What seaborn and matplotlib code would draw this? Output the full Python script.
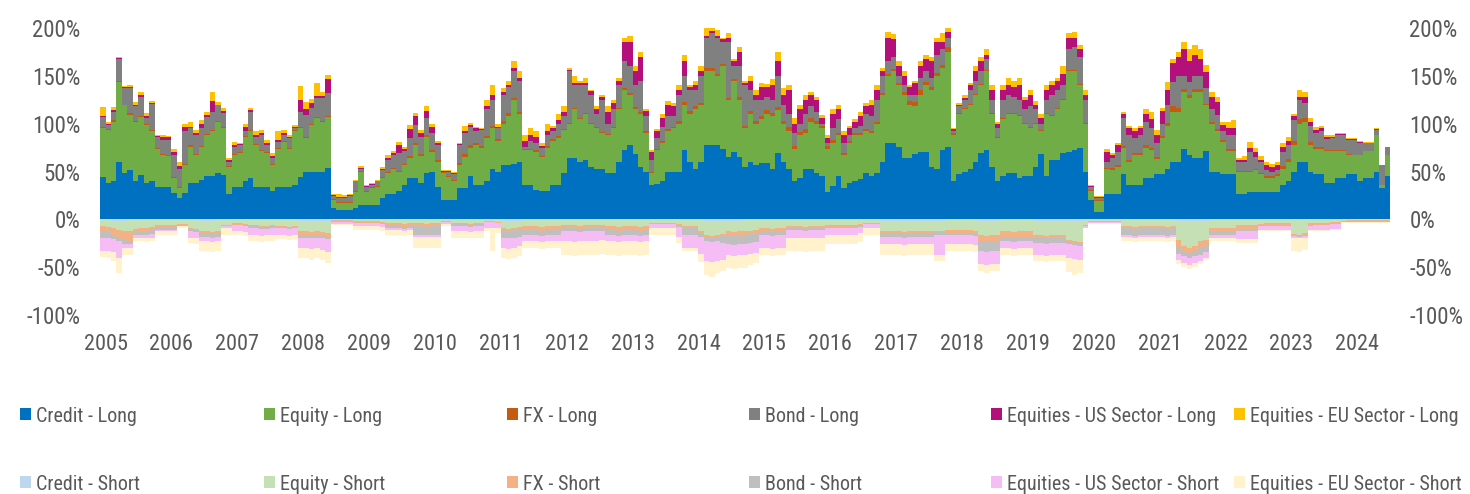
import numpy as np
import pandas as pd
import matplotlib
matplotlib.use("Agg")
import matplotlib.pyplot as plt
import matplotlib.dates as mdates
from matplotlib import font_manager
from matplotlib.patches import Patch
import seaborn as sns

# monthly samples, Dec 2004 .. Jun 2024 (values in % of capital)
months = pd.date_range("2004-12-01", periods=235, freq="MS")

# ---- long side: cumulative tops ----
credit_long = [
    44, 38, 40, 60, 48, 52, 40, 46, 38, 40, 34, 34,
    34, 28, 22, 28, 38, 38, 41, 45, 45, 48, 46, 26,
    34, 34, 40, 43, 34, 34, 34, 30, 34, 34, 34, 36,
    44, 50, 50, 50, 50, 54, 12, 10, 10, 10, 12, 15,
    15, 15, 15, 22, 26, 26, 30, 36, 43, 43, 38, 48,
    50, 34, 20, 20, 20, 33, 33, 45, 36, 36, 40, 53,
    50, 57, 57, 58, 60, 36, 36, 31, 30, 30, 36, 36,
    48, 64, 64, 60, 62, 55, 53, 53, 48, 48, 60, 72,
    78, 68, 55, 50, 36, 37, 40, 50, 50, 50, 72, 60,
    53, 60, 78, 78, 78, 74, 65, 70, 65, 55, 60, 57,
    59, 59, 53, 69, 60, 53, 40, 43, 53, 53, 48, 45,
    29, 35, 45, 33, 38, 40, 42, 48, 45, 48, 60, 80,
    80, 76, 64, 64, 68, 70, 70, 55, 53, 72, 76, 40,
    47, 50, 53, 60, 69, 72, 55, 40, 45, 48, 48, 43,
    45, 45, 55, 68, 45, 62, 62, 69, 70, 72, 75, 50,
    20, 8, 8, 27, 27, 27, 47, 36, 36, 36, 43, 43,
    47, 47, 53, 60, 60, 74, 67, 64, 64, 71, 50, 50,
    47, 47, 47, 27, 27, 29, 29, 29, 29, 29, 29, 36,
    40, 50, 60, 60, 50, 47, 47, 38, 38, 43, 43, 47,
    47, 40, 43, 43, 50, 33, 45,
]
equity_long_top = [
    95, 93, 102, 144, 119, 109, 102, 107, 99, 92, 74, 67,
    66, 43, 33, 57, 76, 67, 76, 88, 92, 102, 95, 55,
    67, 69, 86, 92, 78, 71, 69, 57, 74, 81, 74, 92,
    95, 85, 99, 106, 102, 107, 20, 17, 17, 17, 29, 50,
    29, 33, 34, 43, 48, 53, 50, 57, 64, 78, 66, 86,
    70, 60, 48, 44, 40, 57, 65, 75, 78, 75, 85, 95,
    82, 100, 108, 125, 110, 72, 72, 70, 65, 75, 82, 85,
    93, 100, 115, 105, 110, 100, 95, 90, 88, 95, 115, 135,
    130, 115, 110, 90, 48, 72, 80, 92, 95, 100, 120, 110,
    115, 120, 155, 155, 150, 160, 125, 145, 125, 95, 110, 100,
    105, 110, 108, 114, 100, 92, 74, 88, 90, 102, 100, 95,
    74, 80, 88, 67, 80, 88, 88, 92, 90, 100, 130, 150,
    155, 140, 130, 120, 118, 130, 140, 135, 150, 158, 175, 88,
    110, 115, 120, 130, 140, 155, 110, 85, 105, 110, 110, 108,
    100, 95, 100, 92, 110, 108, 115, 125, 155, 155, 140, 100,
    30, 19, 19, 53, 52, 55, 75, 60, 67, 67, 75, 72,
    63, 85, 98, 112, 112, 133, 127, 133, 133, 119, 100, 92,
    81, 71, 71, 50, 50, 50, 52, 47, 43, 43, 45, 53,
    60, 78, 100, 102, 78, 74, 74, 71, 71, 71, 71, 67,
    67, 67, 71, 71, 88, 36, 67,
]
fx_long = [
    1, 1, 2, 1, 1, 2, 1, 1, 1, 1, 1, 1,
    1, 1, 1, 1, 2, 1, 1, 1, 1, 1, 1, 1,
    1, 1, 1, 1, 1, 1, 1, 1, 1, 1, 1, 1,
    1, 1, 1, 1, 1, 1, 1, 1, 1, 1, 1, 1,
    1, 1, 1, 1, 1, 1, 1, 1, 2, 2, 2, 2,
    2, 2, 1, 1, 1, 2, 3, 3, 2, 2, 2, 3,
    2, 3, 3, 2, 2, 2, 2, 2, 1, 2, 2, 2,
    1, 1, 1, 1, 1, 1, 1, 1, 1, 1, 1, 2,
    2, 2, 2, 2, 1, 1, 2, 2, 2, 3, 3, 3,
    3, 2, 3, 3, 2, 2, 2, 2, 3, 3, 3, 3,
    3, 4, 3, 3, 3, 4, 3, 3, 4, 4, 3, 3,
    3, 3, 2, 2, 2, 2, 2, 2, 2, 2, 2, 2,
    2, 2, 3, 4, 5, 5, 4, 3, 3, 3, 5, 2,
    1, 1, 1, 1, 1, 1, 1, 1, 1, 1, 1, 1,
    1, 1, 1, 1, 1, 1, 1, 1, 1, 1, 1, 1,
    1, 1, 1, 1, 2, 2, 2, 2, 2, 2, 3, 3,
    2, 2, 3, 6, 4, 3, 3, 3, 3, 2, 2, 2,
    2, 2, 2, 1, 1, 1, 1, 1, 2, 2, 2, 3,
    3, 4, 5, 4, 3, 2, 2, 1, 1, 1, 1, 1,
    0, 0, 0, 0, 0, 0, 0,
]
bond_long_top = [
    107, 99, 112, 168, 137, 137, 118, 128, 106, 121, 86, 83,
    83, 67, 53, 92, 95, 88, 95, 107, 112, 119, 111, 60,
    76, 78, 92, 112, 86, 88, 78, 64, 81, 88, 85, 95,
    112, 109, 116, 127, 127, 132, 24, 22, 22, 24, 40, 53,
    34, 36, 40, 52, 62, 67, 69, 71, 85, 99, 86, 106,
    90, 78, 50, 50, 47, 78, 90, 97, 92, 93, 115, 125,
    95, 130, 138, 155, 145, 76, 82, 80, 75, 88, 92, 100,
    108, 155, 140, 140, 140, 130, 110, 125, 100, 115, 140, 165,
    160, 140, 145, 108, 62, 85, 96, 108, 108, 130, 150, 135,
    135, 150, 190, 195, 190, 185, 185, 160, 160, 140, 135, 125,
    125, 128, 125, 150, 120, 110, 90, 100, 110, 118, 112, 100,
    80, 95, 105, 80, 88, 95, 98, 110, 108, 125, 150, 165,
    170, 150, 140, 130, 130, 148, 155, 148, 172, 178, 190, 92,
    118, 125, 135, 145, 155, 168, 125, 95, 125, 130, 128, 125,
    115, 118, 115, 100, 125, 130, 135, 140, 178, 180, 170, 125,
    34, 22, 22, 60, 64, 70, 106, 88, 85, 88, 102, 95,
    80, 100, 120, 144, 150, 150, 144, 150, 150, 137, 115, 109,
    92, 88, 88, 60, 60, 70, 65, 60, 52, 50, 52, 70,
    78, 104, 125, 122, 98, 90, 92, 84, 85, 88, 88, 83,
    83, 80, 80, 80, 93, 57, 76,
]
us_sector_long_top = [
    108, 100, 114, 169, 138, 138, 120, 130, 108, 122, 87, 86,
    86, 70, 56, 97, 97, 90, 100, 109, 124, 120, 113, 62,
    78, 79, 97, 114, 88, 90, 80, 66, 83, 90, 86, 96,
    125, 115, 122, 129, 129, 147, 25, 23, 23, 25, 40, 54,
    35, 37, 40, 53, 64, 69, 78, 73, 94, 108, 90, 113,
    97, 80, 51, 51, 48, 79, 92, 99, 95, 94, 118, 130,
    97, 133, 140, 158, 148, 82, 88, 86, 77, 92, 95, 104,
    112, 156, 142, 143, 142, 134, 115, 128, 112, 122, 145, 185,
    185, 155, 170, 113, 70, 92, 106, 120, 118, 135, 165, 138,
    140, 155, 192, 197, 192, 188, 190, 165, 175, 142, 145, 130,
    138, 138, 140, 165, 130, 135, 100, 115, 125, 130, 125, 106,
    85, 110, 115, 88, 95, 102, 108, 118, 120, 135, 155, 190,
    188, 160, 150, 138, 142, 160, 168, 165, 185, 185, 196, 94,
    120, 127, 140, 155, 165, 172, 135, 100, 135, 140, 138, 140,
    125, 130, 120, 106, 135, 140, 145, 152, 190, 190, 178, 130,
    35, 23, 23, 70, 67, 78, 110, 95, 92, 95, 110, 105,
    88, 113, 135, 163, 170, 178, 165, 172, 168, 154, 128, 123,
    99, 95, 95, 62, 62, 75, 70, 62, 57, 55, 57, 76,
    82, 108, 128, 128, 102, 93, 95, 86, 86, 89, 89, 84,
    84, 81, 80, 80, 94, 57, 76,
]
eu_sector_long_top = [
    117, 102, 117, 170, 139, 140, 123, 133, 111, 124, 88, 88,
    87, 73, 60, 100, 102, 93, 104, 112, 133, 123, 116, 64,
    81, 80, 100, 116, 92, 93, 83, 69, 92, 93, 88, 99,
    139, 123, 126, 142, 133, 151, 26, 26, 25, 26, 41, 56,
    36, 38, 41, 55, 67, 71, 81, 76, 99, 111, 93, 118,
    100, 82, 52, 52, 50, 80, 98, 101, 96, 95, 125, 140,
    100, 137, 145, 165, 155, 88, 95, 92, 80, 100, 98, 110,
    118, 158, 150, 145, 148, 135, 118, 130, 118, 125, 148, 190,
    192, 160, 175, 115, 72, 94, 110, 124, 122, 140, 172, 140,
    145, 160, 200, 200, 198, 190, 195, 168, 180, 145, 150, 135,
    142, 141, 147, 175, 137, 140, 106, 120, 130, 133, 128, 109,
    88, 115, 119, 92, 98, 105, 112, 122, 125, 140, 158, 196,
    194, 165, 155, 140, 145, 165, 172, 170, 190, 195, 200, 95,
    122, 130, 142, 160, 170, 178, 140, 102, 140, 148, 145, 148,
    128, 135, 124, 110, 140, 145, 148, 160, 195, 196, 182, 135,
    36, 24, 24, 74, 69, 80, 112, 98, 95, 98, 115, 112,
    93, 116, 144, 168, 175, 185, 178, 182, 178, 161, 133, 128,
    102, 102, 104, 64, 66, 81, 75, 66, 60, 58, 60, 80,
    86, 110, 135, 133, 106, 97, 98, 88, 88, 90, 90, 85,
    85, 82, 81, 81, 95, 57, 76,
]

# ---- short side: cumulative depths below zero (magnitudes) ----
credit_short = [
    1, 1, 2, 2, 2, 1, 1, 1, 1, 1, 1, 1,
    1, 1, 1, 1, 1, 1, 2, 2, 2, 1, 1, 1,
    1, 1, 1, 1, 1, 1, 1, 1, 1, 1, 1, 1,
    2, 2, 2, 2, 2, 2, 1, 1, 1, 1, 1, 1,
    1, 1, 1, 1, 1, 1, 1, 1, 1, 1, 1, 1,
    1, 1, 1, 1, 1, 1, 1, 1, 1, 1, 1, 1,
    1, 2, 2, 2, 2, 1, 1, 1, 1, 1, 1, 1,
    1, 1, 1, 1, 1, 1, 1, 1, 1, 1, 1, 1,
    1, 1, 1, 1, 1, 1, 1, 1, 1, 1, 1, 1,
    1, 1, 2, 2, 2, 2, 2, 2, 2, 1, 1, 1,
    1, 1, 1, 1, 1, 1, 1, 1, 1, 1, 1, 1,
    1, 1, 1, 1, 1, 1, 1, 1, 1, 1, 2, 2,
    2, 2, 2, 2, 2, 2, 2, 2, 2, 2, 1, 1,
    1, 1, 1, 1, 2, 2, 2, 2, 1, 1, 1, 1,
    1, 1, 2, 2, 2, 2, 2, 2, 2, 2, 2, 1,
    1, 1, 1, 1, 1, 1, 1, 1, 1, 1, 1, 1,
    1, 1, 1, 1, 2, 2, 2, 2, 2, 2, 1, 1,
    1, 1, 1, 1, 1, 1, 1, 1, 1, 1, 1, 1,
    1, 1, 1, 1, 1, 1, 1, 1, 1, 1, 1, 1,
    1, 1, 1, 1, 1, 1, 1,
]
equity_short_bottom = [
    7, 8, 9, 11, 12, 12, 10, 9, 9, 8, 6, 6,
    6, 6, 5, 5, 9, 10, 12, 12, 13, 12, 6, 6,
    4, 4, 5, 6, 6, 7, 7, 6, 7, 7, 8, 7,
    12, 12, 13, 12, 13, 14, 1, 1, 1, 1, 2, 2,
    2, 2, 2, 3, 4, 4, 4, 5, 4, 4, 4, 5,
    4, 4, 2, 2, 4, 4, 4, 5, 4, 4, 2, 2,
    3, 9, 10, 9, 8, 7, 7, 7, 8, 7, 7, 7,
    6, 6, 6, 7, 6, 6, 6, 6, 7, 7, 8, 7,
    7, 7, 8, 7, 4, 4, 4, 4, 4, 5, 7, 7,
    7, 12, 16, 17, 16, 15, 12, 13, 12, 12, 12, 11,
    9, 9, 10, 9, 9, 7, 7, 7, 8, 7, 7, 7,
    6, 6, 6, 6, 6, 6, 5, 4, 4, 4, 12, 12,
    12, 12, 13, 12, 12, 12, 12, 12, 12, 12, 11, 11,
    11, 11, 11, 12, 16, 17, 16, 16, 12, 12, 13, 12,
    12, 12, 16, 16, 17, 16, 16, 16, 22, 23, 24, 6,
    2, 2, 2, 2, 2, 2, 7, 7, 8, 7, 7, 7,
    7, 7, 8, 7, 22, 28, 30, 28, 23, 22, 9, 9,
    9, 9, 9, 6, 6, 6, 6, 5, 4, 4, 4, 4,
    4, 15, 16, 14, 4, 4, 4, 4, 3, 3, 2, 1,
    1, 1, 1, 1, 1, 1, 1,
]
fx_short_bottom = [
    12, 13, 16, 18, 22, 23, 13, 12, 12, 11, 8, 8,
    8, 8, 6, 6, 10, 11, 14, 14, 15, 14, 7, 7,
    6, 6, 6, 7, 7, 8, 8, 7, 8, 8, 9, 8,
    16, 16, 17, 16, 17, 18, 3, 3, 3, 3, 4, 4,
    4, 4, 4, 5, 7, 7, 7, 8, 7, 7, 7, 8,
    7, 7, 3, 3, 5, 5, 5, 6, 5, 5, 3, 3,
    4, 11, 12, 11, 10, 11, 11, 11, 12, 11, 11, 11,
    9, 9, 9, 10, 9, 9, 9, 9, 11, 11, 12, 11,
    11, 11, 12, 11, 5, 5, 5, 5, 5, 6, 9, 9,
    9, 14, 18, 19, 18, 17, 16, 17, 16, 16, 15, 14,
    12, 12, 13, 12, 12, 9, 9, 9, 10, 9, 9, 9,
    8, 8, 8, 8, 8, 8, 7, 5, 5, 5, 14, 14,
    14, 14, 15, 14, 14, 14, 14, 14, 13, 13, 14, 14,
    14, 14, 14, 15, 23, 24, 23, 23, 18, 18, 19, 18,
    18, 18, 19, 19, 20, 19, 19, 19, 24, 25, 26, 7,
    3, 3, 3, 3, 3, 3, 9, 9, 10, 9, 9, 9,
    9, 9, 10, 9, 29, 33, 36, 33, 30, 28, 12, 12,
    12, 12, 12, 11, 11, 11, 11, 6, 6, 6, 6, 6,
    6, 16, 17, 16, 6, 6, 6, 6, 5, 5, 3, 3,
    3, 3, 3, 3, 3, 3, 3,
]
bond_short_bottom = [
    19, 19, 21, 23, 26, 26, 16, 16, 16, 15, 11, 11,
    11, 11, 7, 7, 12, 13, 18, 18, 19, 18, 7, 7,
    6, 6, 7, 9, 9, 10, 10, 9, 9, 9, 10, 9,
    19, 19, 20, 19, 20, 21, 3, 3, 3, 3, 4, 4,
    4, 4, 4, 5, 9, 9, 9, 10, 9, 16, 16, 16,
    16, 16, 3, 3, 7, 7, 7, 8, 7, 7, 3, 3,
    4, 19, 20, 19, 18, 16, 16, 16, 17, 16, 16, 16,
    12, 12, 12, 13, 12, 12, 12, 12, 16, 16, 17, 16,
    16, 16, 17, 16, 5, 5, 5, 5, 5, 8, 16, 16,
    16, 18, 23, 24, 23, 25, 26, 27, 26, 26, 25, 24,
    16, 16, 17, 16, 16, 11, 11, 11, 12, 11, 11, 11,
    9, 9, 9, 9, 9, 9, 8, 5, 5, 5, 18, 18,
    18, 18, 19, 18, 18, 18, 18, 18, 16, 16, 16, 16,
    16, 16, 16, 17, 33, 34, 33, 33, 23, 23, 24, 23,
    23, 23, 25, 25, 26, 25, 25, 25, 26, 27, 28, 7,
    3, 3, 3, 3, 3, 3, 16, 16, 17, 16, 16, 16,
    16, 16, 17, 16, 36, 38, 40, 38, 37, 34, 16, 16,
    16, 16, 16, 12, 12, 12, 12, 7, 7, 7, 7, 7,
    7, 17, 18, 17, 7, 6, 6, 6, 5, 5, 3, 3,
    3, 3, 3, 3, 3, 3, 3,
]
us_sector_short_bottom = [
    33, 33, 34, 40, 30, 30, 19, 19, 20, 19, 12, 12,
    12, 12, 7, 7, 19, 20, 23, 23, 24, 23, 9, 9,
    12, 12, 13, 16, 16, 17, 16, 16, 16, 16, 17, 16,
    30, 30, 31, 30, 32, 34, 5, 5, 5, 5, 7, 7,
    7, 7, 7, 8, 11, 11, 11, 12, 11, 18, 18, 18,
    18, 18, 5, 5, 12, 12, 12, 13, 12, 12, 9, 9,
    9, 30, 31, 30, 28, 23, 23, 23, 24, 23, 23, 23,
    23, 23, 24, 23, 23, 23, 23, 22, 23, 23, 24, 23,
    23, 23, 24, 23, 9, 9, 9, 9, 9, 18, 30, 30,
    30, 36, 44, 45, 44, 42, 37, 38, 37, 37, 36, 35,
    30, 30, 31, 30, 30, 19, 19, 19, 20, 19, 19, 19,
    16, 16, 16, 16, 16, 16, 14, 9, 9, 9, 26, 26,
    26, 26, 27, 26, 26, 26, 26, 26, 37, 37, 26, 26,
    26, 26, 26, 27, 47, 48, 47, 47, 30, 30, 31, 30,
    30, 30, 37, 37, 38, 37, 37, 37, 40, 41, 42, 9,
    4, 4, 4, 4, 4, 4, 18, 18, 19, 18, 18, 18,
    18, 18, 19, 18, 43, 46, 48, 46, 44, 40, 19, 19,
    19, 19, 19, 21, 21, 21, 21, 11, 11, 11, 11, 11,
    11, 19, 20, 19, 11, 11, 11, 11, 10, 10, 3, 3,
    3, 3, 3, 3, 3, 3, 3,
]
eu_sector_short_bottom = [
    39, 40, 44, 56, 37, 37, 23, 23, 24, 23, 16, 16,
    16, 16, 9, 9, 25, 26, 33, 33, 34, 33, 16, 16,
    16, 16, 17, 23, 23, 24, 23, 23, 21, 21, 22, 21,
    40, 40, 42, 40, 42, 46, 6, 6, 6, 6, 11, 11,
    11, 11, 11, 12, 16, 16, 16, 17, 16, 30, 30, 30,
    30, 30, 7, 7, 19, 19, 19, 20, 19, 19, 12, 33,
    14, 40, 41, 40, 38, 30, 30, 30, 31, 30, 30, 30,
    37, 37, 38, 37, 37, 37, 37, 36, 37, 37, 38, 37,
    37, 37, 38, 37, 16, 16, 16, 16, 16, 25, 33, 33,
    33, 45, 58, 60, 56, 54, 51, 52, 51, 51, 48, 46,
    37, 37, 38, 37, 37, 33, 33, 33, 34, 33, 33, 33,
    26, 26, 26, 26, 26, 26, 24, 16, 16, 16, 37, 37,
    37, 37, 38, 37, 37, 37, 37, 37, 44, 44, 33, 33,
    33, 33, 33, 34, 54, 56, 54, 54, 37, 37, 38, 37,
    37, 37, 44, 44, 45, 44, 44, 44, 55, 58, 56, 9,
    5, 5, 5, 5, 5, 5, 23, 23, 24, 23, 23, 23,
    23, 23, 24, 23, 47, 50, 52, 50, 47, 43, 23, 23,
    23, 23, 23, 25, 25, 25, 25, 12, 12, 12, 12, 12,
    12, 33, 34, 32, 12, 12, 12, 12, 11, 11, 4, 4,
    4, 4, 4, 4, 4, 4, 4,
]

labels_long = ["Credit - Long", "Equity - Long", "FX - Long", "Bond - Long",
               "Equities - US Sector - Long", "Equities - EU Sector - Long"]
labels_short = ["Credit - Short", "Equity - Short", "FX - Short", "Bond - Short",
                "Equities - US Sector - Short", "Equities - EU Sector - Short"]
colors_long = ["#0070C0", "#70AD47", "#C55A11", "#808080", "#B4107C", "#FFC000"]
colors_short = ["#BDD7EE", "#C5E0B4", "#F4B183", "#BFBFBF", "#F5BCF5", "#FFF2CC"]

sns.set_theme(style="white")

# narrow font if there is one, otherwise plain Liberation Sans a bit smaller
narrow = None
for fam in ["Liberation Sans Narrow", "Roboto Condensed", "Open Sans Condensed",
            "DejaVu Sans Condensed", "Noto Sans Condensed"]:
    try:
        font_manager.findfont(font_manager.FontProperties(family=fam),
                              fallback_to_default=False)
        narrow = fam
        break
    except ValueError:
        pass
if narrow:
    plt.rcParams["font.family"] = [narrow, "Liberation Sans", "DejaVu Sans"]
    ysize, xsize, legsize = 16.5, 16, 14.5
else:
    plt.rcParams["font.family"] = ["Liberation Sans", "DejaVu Sans"]
    ysize, xsize, legsize = 14.5, 15, 12.5
grey = "#595959"

# boundaries of each band (make sure they never cross)
eq_top = np.array(equity_long_top, float)
fx_top = np.minimum(eq_top + np.array(fx_long, float), np.array(bond_long_top, float))
long_levels = np.vstack([np.zeros(len(months)), credit_long, eq_top, fx_top,
                         bond_long_top, us_sector_long_top, eu_sector_long_top]).astype(float)
long_levels = np.maximum.accumulate(long_levels, axis=0)
short_levels = np.vstack([np.zeros(len(months)), credit_short, equity_short_bottom,
                          fx_short_bottom, bond_short_bottom, us_sector_short_bottom,
                          eu_sector_short_bottom]).astype(float)
short_levels = -np.maximum.accumulate(short_levels, axis=0)

# step drawing: repeat last value to close the final month
x = list(months) + [months[-1] + pd.DateOffset(months=1)]
def ext(a):
    return np.append(a, a[-1])

fig = plt.figure(figsize=(14.7, 4.94), dpi=100)
ax = fig.add_axes([100 / 1470, 1 - 315 / 494, 1290 / 1470, 287 / 494])

for i in range(6):
    ax.fill_between(x, ext(long_levels[i]), ext(long_levels[i + 1]), step="post",
                    color=colors_long[i], linewidth=0)
    ax.fill_between(x, ext(short_levels[i]), ext(short_levels[i + 1]), step="post",
                    color=colors_short[i], linewidth=0)

ax.set_xlim(x[0], x[-1])
ax.set_ylim(-100, 200)
ax.set_yticks(np.arange(-100, 201, 50))
ax.yaxis.set_major_formatter(plt.FuncFormatter(lambda v, p: "%d%%" % v))
ax.xaxis.set_major_locator(mdates.YearLocator())
ax.xaxis.set_major_formatter(mdates.DateFormatter("%Y"))
ax.tick_params(axis="y", length=0, pad=14, labelsize=ysize, labelcolor=grey,
               labelleft=True, labelright=True)
ax.tick_params(axis="x", length=0, pad=14, labelsize=xsize, labelcolor=grey)
ax.grid(False)
sns.despine(ax=ax, left=True, bottom=True)

# legend: two rows (long / short), six fixed columns
col_x = [20, 264, 507, 749, 991, 1234]
row_y = [416, 484]
for j in range(6):
    for r, (lab, col) in enumerate([(labels_long[j], colors_long[j]),
                                    (labels_short[j], colors_short[j])]):
        fig.legend(handles=[Patch(facecolor=col, edgecolor="none", label=lab)],
                   loc="center left", bbox_to_anchor=(col_x[j] / 1470, 1 - row_y[r] / 494),
                   frameon=False, borderpad=0, borderaxespad=0, handlelength=0.55,
                   handleheight=0.55, handletextpad=0.22, fontsize=legsize, labelcolor=grey)

fig.savefig("out.png", dpi=100, facecolor="white")
